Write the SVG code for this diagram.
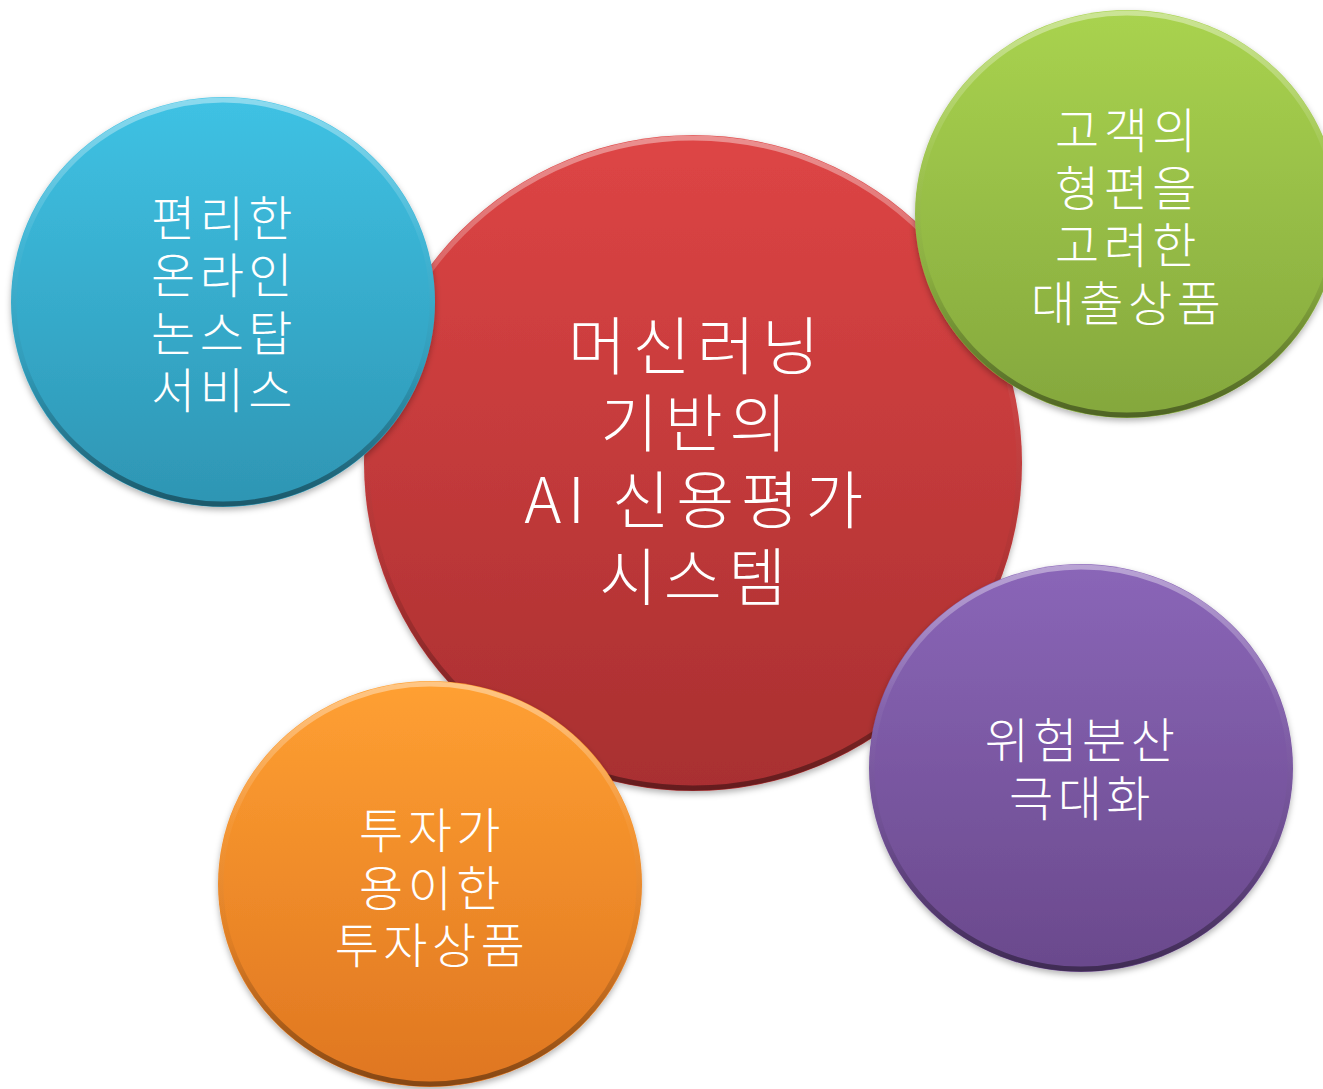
<svg xmlns="http://www.w3.org/2000/svg" width="1323" height="1089" viewBox="0 0 1323 1089">
  <style>
    .lbl { font-family: "Noto Sans CJK KR", "Noto Sans", sans-serif; font-weight: 300; fill: #ffffff; text-anchor: middle; }
    .sm { font-size: 48px; letter-spacing: 4.5px; }
    .lg { font-size: 63px; letter-spacing: 6.5px; }
    .bevel { fill: none; stroke: url(#bevel); stroke-width: 5; }
  </style>
  <defs>
    <linearGradient id="gRed" x1="0" y1="0" x2="0" y2="1">
      <stop offset="0" stop-color="#de4545"/>
      <stop offset="1" stop-color="#a82f30"/>
    </linearGradient>
    <linearGradient id="gBlue" x1="0" y1="0" x2="0" y2="1">
      <stop offset="0" stop-color="#3fc2e4"/>
      <stop offset="1" stop-color="#2e95b3"/>
    </linearGradient>
    <linearGradient id="gGreen" x1="0" y1="0" x2="0" y2="1">
      <stop offset="0" stop-color="#a9d34f"/>
      <stop offset="1" stop-color="#84a73d"/>
    </linearGradient>
    <linearGradient id="gOrange" x1="0" y1="0" x2="0" y2="1">
      <stop offset="0" stop-color="#ffa032"/>
      <stop offset="1" stop-color="#df7621"/>
    </linearGradient>
    <linearGradient id="gPurple" x1="0" y1="0" x2="0" y2="1">
      <stop offset="0" stop-color="#8a66b8"/>
      <stop offset="1" stop-color="#6a498c"/>
    </linearGradient>
    <linearGradient id="bevel" x1="0" y1="0" x2="0" y2="1">
      <stop offset="0" stop-color="#ffffff" stop-opacity="0.4"/>
      <stop offset="0.35" stop-color="#ffffff" stop-opacity="0.05"/>
      <stop offset="0.65" stop-color="#000000" stop-opacity="0.05"/>
      <stop offset="1" stop-color="#000000" stop-opacity="0.4"/>
    </linearGradient>
    <filter id="shadow" x="-10%" y="-10%" width="120%" height="125%">
      <feDropShadow dx="0" dy="3" stdDeviation="3" flood-color="#000000" flood-opacity="0.3"/>
    </filter>
  </defs>

  <g id="connectors"/>

  <g id="node-center">
    <ellipse cx="693" cy="463" rx="329" ry="328" fill="url(#gRed)" filter="url(#shadow)"/>
    <ellipse class="bevel" cx="693" cy="463" rx="326" ry="325"/>
    <text class="lbl lg" x="697" y="369">머신러닝</text>
    <text class="lbl lg" x="697" y="446">기반의</text>
    <text class="lbl lg" x="697" y="523">AI 신용평가</text>
    <text class="lbl lg" x="696" y="600">시스템</text>
  </g>

  <g id="node-blue">
    <ellipse cx="223" cy="302" rx="212" ry="205" fill="url(#gBlue)" filter="url(#shadow)"/>
    <ellipse class="bevel" cx="223" cy="302" rx="209" ry="202"/>
    <text class="lbl sm" x="224" y="236">편리한</text>
    <text class="lbl sm" x="224" y="293">온라인</text>
    <text class="lbl sm" x="224" y="351">논스탑</text>
    <text class="lbl sm" x="224" y="408">서비스</text>
  </g>

  <g id="node-green">
    <ellipse cx="1127" cy="214" rx="212" ry="204" fill="url(#gGreen)" filter="url(#shadow)"/>
    <ellipse class="bevel" cx="1127" cy="214" rx="209" ry="201"/>
    <text class="lbl sm" x="1128" y="148">고객의</text>
    <text class="lbl sm" x="1128" y="206">형편을</text>
    <text class="lbl sm" x="1128" y="263">고려한</text>
    <text class="lbl sm" x="1128" y="321">대출상품</text>
  </g>

  <g id="node-orange">
    <ellipse cx="430" cy="884" rx="212" ry="203" fill="url(#gOrange)" filter="url(#shadow)"/>
    <ellipse class="bevel" cx="430" cy="884" rx="209" ry="200"/>
    <text class="lbl sm" x="432" y="848">투자가</text>
    <text class="lbl sm" x="432" y="906">용이한</text>
    <text class="lbl sm" x="432" y="963">투자상품</text>
  </g>

  <g id="node-purple">
    <ellipse cx="1081" cy="768" rx="212" ry="204" fill="url(#gPurple)" filter="url(#shadow)"/>
    <ellipse class="bevel" cx="1081" cy="768" rx="209" ry="201"/>
    <text class="lbl sm" x="1082" y="758">위험분산</text>
    <text class="lbl sm" x="1082" y="816">극대화</text>
  </g>
</svg>
